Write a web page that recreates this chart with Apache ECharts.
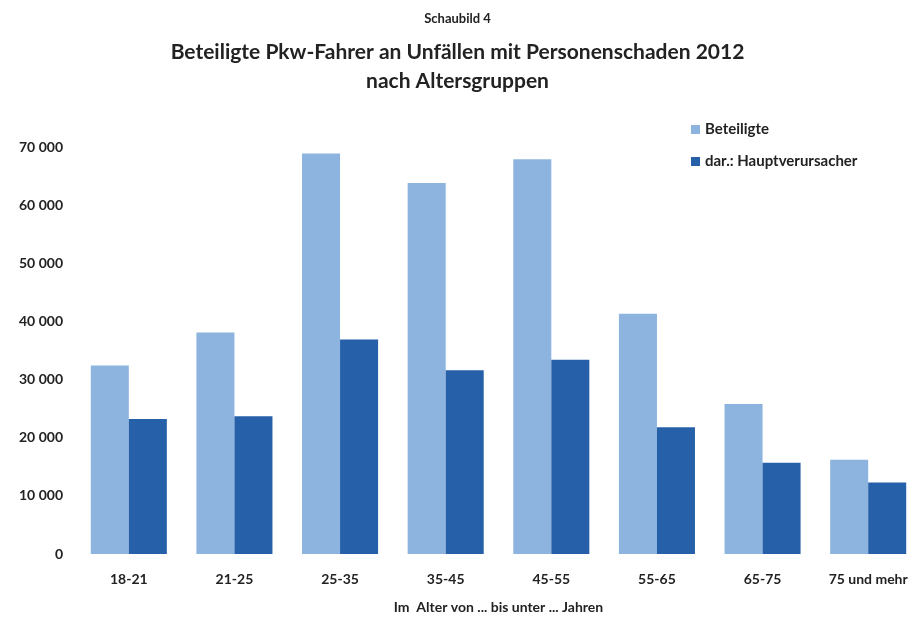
<!DOCTYPE html>
<html>
<head>
<meta charset="utf-8">
<script src="https://cdn.jsdelivr.net/npm/echarts@6/dist/echarts.min.js"></script>
<style>
    html, body { margin: 0; padding: 0; background: #ffffff; }
    #main { width: 915px; height: 617px; }
</style>
</head>
<body>
<div id="main"></div>
<script>
    // Altersgruppen
    var categories = ['18-21', '21-25', '25-35', '35-45', '45-55', '55-65', '65-75', '75 und mehr'];
    // Beteiligte
    var beteiligte = [32400, 38100, 68900, 63800, 67900, 41300, 25800, 16200];
    // dar.: Hauptverursacher
    var hauptverursacher = [23200, 23700, 36900, 31600, 33400, 21800, 15700, 12300];

    var font = 'Lato, "Open Sans", sans-serif';

    var chart = echarts.init(document.getElementById('main'));
    chart.setOption({
        animation: false,
        title: [
            {
                text: 'Schaubild 4',
                left: 'center',
                top: 7,
                textStyle: {fontSize: 13, fontWeight: 'bold', color: '#222', fontFamily: font}
            },
            {
                text: 'Beteiligte Pkw-Fahrer an Unfällen mit Personenschaden 2012\nnach Altersgruppen',
                left: 'center',
                top: 33,
                textStyle: {fontSize: 21, fontWeight: 'bold', color: '#222', fontFamily: font, lineHeight: 29}
            }
        ],
        legend: {
            orient: 'vertical',
            left: 686,
            top: 117,
            itemWidth: 9,
            itemHeight: 9,
            itemGap: 17,
            icon: 'rect',
            textStyle: {fontSize: 15, fontWeight: 'bold', color: '#222', fontFamily: font},
            data: ['Beteiligte', 'dar.: Hauptverursacher']
        },
        grid: {
            left: 76,
            top: 147,
            width: 845,
            height: 407,
            outerBoundsMode: 'none'
        },
        xAxis: {
            type: 'category',
            data: categories,
            name: 'Im  Alter von ... bis unter ... Jahren',
            nameLocation: 'middle',
            nameGap: 46,
            nameTextStyle: {fontSize: 14, fontWeight: 'bold', color: '#222', fontFamily: font},
            axisLine: {show: false},
            axisTick: {show: false},
            axisLabel: {margin: 18, fontSize: 14, fontWeight: 'bold', color: '#222', fontFamily: font}
        },
        yAxis: {
            type: 'value',
            min: 0,
            max: 70000,
            interval: 10000,
            splitLine: {show: false},
            axisLine: {show: false},
            axisTick: {show: false},
            axisLabel: {
                margin: 13,
                fontSize: 14,
                fontWeight: 'bold',
                color: '#222',
                fontFamily: font,
                formatter: function (v) {
                    return String(v).replace(/\B(?=(\d{3})+(?!\d))/g, ' ');
                }
            }
        },
        series: [
            {
                name: 'Beteiligte',
                type: 'bar',
                data: beteiligte,
                barGap: '0%',
                barCategoryGap: '28%',
                itemStyle: {color: '#8cb4de'}
            },
            {
                name: 'dar.: Hauptverursacher',
                type: 'bar',
                data: hauptverursacher,
                itemStyle: {color: '#2660a8'}
            }
        ]
    });
</script>
</body>
</html>
